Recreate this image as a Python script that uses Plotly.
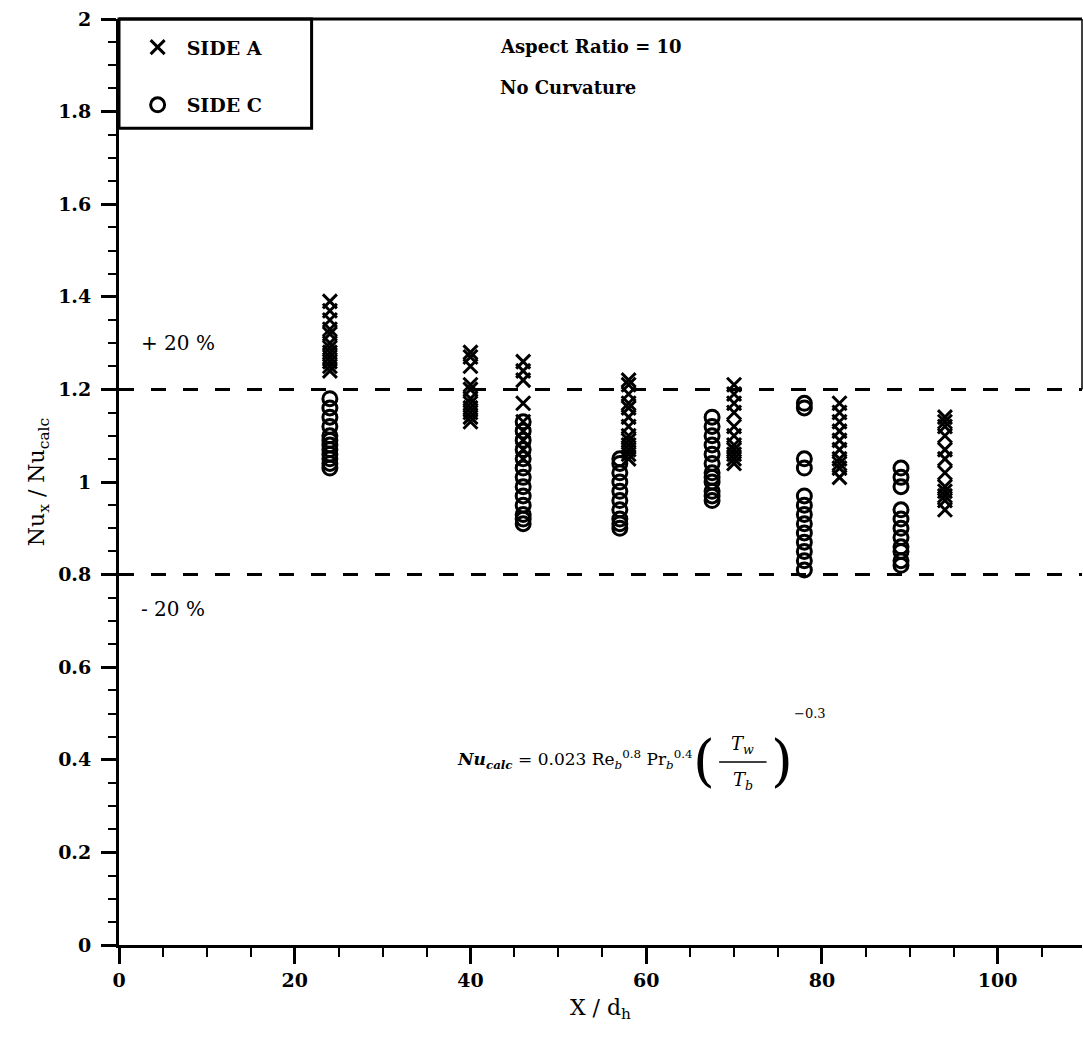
import plotly.graph_objects as go

# ---- data ----
side_a_x = [24]*12 + [40]*11 + [46]*9 + [58]*13 + [70]*11 + [82]*10 + [94]*12
side_a_y = [1.39, 1.37, 1.35, 1.33, 1.32, 1.30, 1.29, 1.28, 1.27, 1.26, 1.25, 1.24,
            1.28, 1.27, 1.25, 1.21, 1.20, 1.18, 1.17, 1.16, 1.15, 1.14, 1.13,
            1.26, 1.24, 1.22, 1.17, 1.13, 1.11, 1.09, 1.07, 1.05,
            1.22, 1.21, 1.19, 1.17, 1.16, 1.14, 1.12, 1.10, 1.09, 1.08, 1.07, 1.06, 1.05,
            1.21, 1.19, 1.17, 1.15, 1.12, 1.10, 1.08, 1.07, 1.06, 1.05, 1.04,
            1.17, 1.15, 1.13, 1.11, 1.09, 1.07, 1.05, 1.04, 1.03, 1.01,
            1.14, 1.13, 1.12, 1.10, 1.07, 1.05, 1.02, 0.99, 0.98, 0.97, 0.96, 0.94]

side_c_x = [24]*12 + [46]*13 + [57]*10 + [67.5]*12 + [78]*13 + [89]*11
side_c_y = [1.18, 1.16, 1.14, 1.12, 1.10, 1.09, 1.08, 1.07, 1.06, 1.05, 1.04, 1.03,
            1.13, 1.11, 1.09, 1.07, 1.05, 1.03, 1.01, 0.99, 0.97, 0.95, 0.93, 0.92, 0.91,
            1.05, 1.04, 1.02, 1.00, 0.98, 0.96, 0.94, 0.92, 0.91, 0.90,
            1.14, 1.12, 1.10, 1.08, 1.06, 1.04, 1.02, 1.01, 1.00, 0.98, 0.97, 0.96,
            1.17, 1.16, 1.05, 1.03, 0.97, 0.95, 0.93, 0.91, 0.89, 0.87, 0.85, 0.83, 0.81,
            1.03, 1.01, 0.99, 0.94, 0.92, 0.90, 0.88, 0.86, 0.85, 0.83, 0.82]

band_levels = [1.2, 0.8]
band_labels = ["+ 20 %", "- 20 %"]
x_range = [0, 109.6]
y_range = [0, 2]

SERIF = "DejaVu Serif"

fig = go.Figure()
fig.add_trace(go.Scatter(x=side_a_x, y=side_a_y, mode="markers", name="<b>SIDE A</b>",
                         legendgroup="a",
                         marker=dict(symbol="x-thin-open", size=14, color="black",
                                     line=dict(width=3, color="black"))))
fig.add_trace(go.Scatter(x=side_c_x, y=side_c_y, mode="markers", name="<b>SIDE C</b>",
                         legendgroup="c",
                         marker=dict(symbol="circle-open", size=14, color="black",
                                     line=dict(width=3, color="black"))))

# dashed +/-20% lines
for lv in band_levels:
    fig.add_trace(go.Scatter(x=x_range, y=[lv, lv], mode="lines", showlegend=False,
                             line=dict(color="black", width=3, dash="15px,17px"),
                             hoverinfo="skip"))

ann = []
ann.append(dict(x=2.3, y=1.30, text=band_labels[0], xanchor="left", yanchor="middle",
                showarrow=False, font=dict(family=SERIF, size=20, color="black")))
ann.append(dict(x=2.3, y=0.725, text=band_labels[1], xanchor="left", yanchor="middle",
                showarrow=False, font=dict(family=SERIF, size=20, color="black")))
ann.append(dict(x=43.1, y=1.94, text="<b>Aspect Ratio = 10</b>", xanchor="left", yanchor="middle",
                showarrow=False, font=dict(family=SERIF, size=18, color="black")))
ann.append(dict(x=43.1, y=1.853, text="<b>No Curvature</b>", xanchor="left", yanchor="middle",
                showarrow=False, font=dict(family=SERIF, size=18, color="black")))
# formula
ann.append(dict(x=65.5, y=0.40,
                text="<b><i>Nu<sub>calc</sub></i></b> = 0.023 Re<sub><i>b</i></sub><sup>0.8</sup> Pr<sub><i>b</i></sub><sup>0.4</sup>",
                xanchor="right", yanchor="middle", showarrow=False,
                font=dict(family=SERIF, size=17, color="black")))
ann.append(dict(x=66.6, y=0.398, text="(", xanchor="center", yanchor="middle", showarrow=False,
                font=dict(family=SERIF, size=56, color="black")))
ann.append(dict(x=75.4, y=0.398, text=")", xanchor="center", yanchor="middle", showarrow=False,
                font=dict(family=SERIF, size=56, color="black")))
ann.append(dict(x=71.0, y=0.432, text="<i>T<sub>w</sub></i>", xanchor="center", yanchor="middle",
                showarrow=False, font=dict(family=SERIF, size=18, color="black")))
ann.append(dict(x=71.0, y=0.355, text="<i>T<sub>b</sub></i>", xanchor="center", yanchor="middle",
                showarrow=False, font=dict(family=SERIF, size=18, color="black")))
ann.append(dict(x=76.6, y=0.50, text="−0.3", xanchor="left", yanchor="middle",
                showarrow=False, font=dict(family=SERIF, size=13, color="black")))

shapes = [
    dict(type="line", xref="x", yref="y", x0=68.3, x1=73.7, y0=0.395, y1=0.395,
         line=dict(color="black", width=1.5)),
    dict(type="line", xref="paper", yref="paper", x0=0, x1=1, y0=1, y1=1,
         line=dict(color="black", width=3)),
    dict(type="line", xref="paper", yref="y", x0=1, x1=1, y0=1.2, y1=2,
         line=dict(color="black", width=1.5)),
    dict(type="rect", xref="paper", yref="paper", x0=0, x1=0.2, y0=0.882, y1=1,
         line=dict(color="black", width=3), fillcolor="rgba(0,0,0,0)"),
]

fig.update_layout(
    width=1083, height=1042,
    margin=dict(l=119, r=1, t=19, b=97),
    paper_bgcolor="white", plot_bgcolor="white",
    showlegend=True,
    legend=dict(x=0.01, y=0.99, xanchor="left", yanchor="top",
                bgcolor="rgba(0,0,0,0)", borderwidth=0,
                font=dict(family=SERIF, size=19, color="black"),
                tracegroupgap=30, itemwidth=48),
    annotations=ann, shapes=shapes,
    xaxis=dict(range=x_range, dtick=20, tick0=0, showgrid=False, zeroline=False,
               showline=True, linewidth=3, linecolor="black",
               ticks="outside", ticklen=16, tickwidth=2.5, tickcolor="black",
               tickfont=dict(family=SERIF, size=19, color="black", weight="bold"),
               minor=dict(dtick=5, ticks="outside", ticklen=9, tickwidth=2, tickcolor="black"),
               title=dict(text="X / d<sub>h</sub>", standoff=10,
                          font=dict(family=SERIF, size=22, color="black"))),
    yaxis=dict(range=y_range, dtick=0.2, tick0=0, showgrid=False, zeroline=False,
               showline=True, linewidth=3, linecolor="black",
               ticks="outside", ticklen=15, tickwidth=2.5, tickcolor="black",
               ticklabelstandoff=6,
               tickfont=dict(family=SERIF, size=19, color="black", weight="bold"),
               tickformat="~g",
               minor=dict(dtick=0.05, ticks="outside", ticklen=8, tickwidth=2, tickcolor="black"),
               title=dict(text="Nu<sub>x</sub> / Nu<sub>calc</sub>", standoff=8,
                          font=dict(family=SERIF, size=22, color="black"))),
)

fig.write_html("out.html")
